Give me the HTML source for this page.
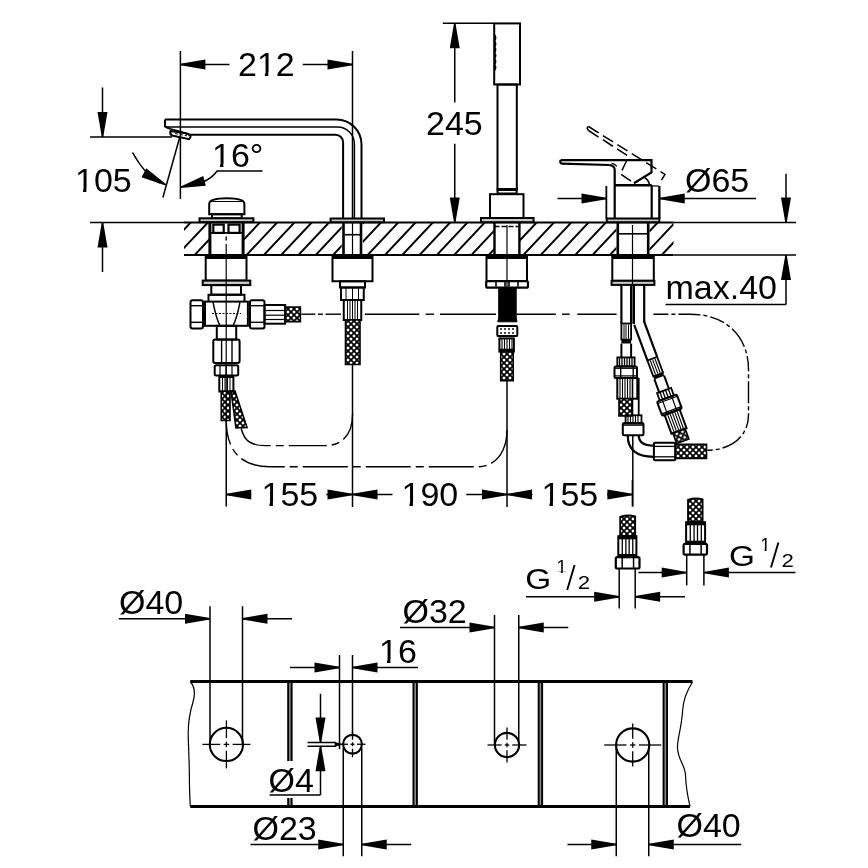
<!DOCTYPE html>
<html><head><meta charset="utf-8"><style>
html,body{margin:0;padding:0;background:#fff;width:868px;height:868px;overflow:hidden}
svg{position:absolute;left:0;top:0}
text{font-family:"Liberation Sans",sans-serif;fill:#000;stroke:none}
</style></head><body>
<svg width="868" height="868" viewBox="0 0 868 868">
<defs>
<pattern id="braid" width="6" height="6" patternUnits="userSpaceOnUse">
<rect width="6" height="6" fill="#000"/>
<path d="M3,1.2 L4.8,3 L3,4.8 L1.2,3Z M0,-1.8 L1.8,0 L0,1.8 L-1.8,0Z M6,-1.8 L7.8,0 L6,1.8 L4.2,0Z M0,4.2 L1.8,6 L0,7.8 L-1.8,6Z M6,4.2 L7.8,6 L6,7.8 L4.2,6Z " fill="#fff" stroke="none"/>
</pattern>
</defs>
<g stroke="#000" fill="none" stroke-linecap="butt">
<line x1="180.4" y1="51" x2="180.4" y2="199" stroke-width="1.5" />
<line x1="352.5" y1="51" x2="352.5" y2="218" stroke-width="1.5" />
<line x1="180.4" y1="64.5" x2="229.5" y2="64.5" stroke-width="1.5" />
<path d="M180.40,63.80 L205.40,59.50 L205.40,69.50 L180.40,65.20Z" fill="#000" stroke="none"/>
<line x1="302.75" y1="64.5" x2="352.5" y2="64.5" stroke-width="1.5" />
<path d="M352.50,65.20 L327.50,69.50 L327.50,59.50 L352.50,63.80Z" fill="#000" stroke="none"/>
<line x1="90" y1="137" x2="172" y2="137" stroke-width="1.5" />
<line x1="102.5" y1="87.5" x2="102.5" y2="137" stroke-width="1.5" />
<path d="M101.80,137.00 L97.50,112.00 L107.50,112.00 L103.20,137.00Z" fill="#000" stroke="none"/>
<line x1="90" y1="222.5" x2="184" y2="222.5" stroke-width="1.5" />
<line x1="102.5" y1="222.5" x2="102.5" y2="272" stroke-width="1.5" />
<path d="M103.20,222.50 L107.50,247.50 L97.50,247.50 L101.80,222.50Z" fill="#000" stroke="none"/>
<line x1="179.7" y1="137.3" x2="162.9" y2="197.5" stroke-width="1.5" />
<path d="M132.5,152.5 Q145,175 160,183" stroke-width="1.5" fill="none" />
<path d="M165.46,185.41 L141.49,177.13 L146.30,168.37 L166.14,184.19Z" fill="#000" stroke="none"/>
<path d="M203,182 Q212,178 217.1,171 L262.5,171" stroke-width="1.5" fill="none" />
<path d="M180.22,186.72 L203.23,176.06 L205.84,185.71 L180.58,188.08Z" fill="#000" stroke="none"/>
<line x1="442.75" y1="23.3" x2="494" y2="23.3" stroke-width="1.5" />
<line x1="454.75" y1="23.3" x2="454.75" y2="102.5" stroke-width="1.5" />
<path d="M455.45,23.30 L459.75,48.30 L449.75,48.30 L454.05,23.30Z" fill="#000" stroke="none"/>
<line x1="454.75" y1="143.75" x2="454.75" y2="222.5" stroke-width="1.5" />
<path d="M454.05,222.50 L449.75,197.50 L459.75,197.50 L455.45,222.50Z" fill="#000" stroke="none"/>
<line x1="557.5" y1="198.5" x2="606.5" y2="198.5" stroke-width="1.5" />
<path d="M606.50,199.20 L581.50,203.50 L581.50,193.50 L606.50,197.80Z" fill="#000" stroke="none"/>
<line x1="606.5" y1="186" x2="606.5" y2="219" stroke-width="1.5" />
<line x1="659.75" y1="186" x2="659.75" y2="219" stroke-width="1.5" />
<line x1="659.75" y1="198.5" x2="756" y2="198.5" stroke-width="1.5" />
<path d="M659.75,197.80 L684.75,193.50 L684.75,203.50 L659.75,199.20Z" fill="#000" stroke="none"/>
<line x1="673.5" y1="222.5" x2="796" y2="222.5" stroke-width="1.5" />
<line x1="673.5" y1="255" x2="796" y2="255" stroke-width="1.5" />
<line x1="786" y1="173.75" x2="786" y2="222.5" stroke-width="1.5" />
<path d="M785.30,222.50 L781.00,197.50 L791.00,197.50 L786.70,222.50Z" fill="#000" stroke="none"/>
<line x1="786" y1="255" x2="786" y2="304.5" stroke-width="1.5" />
<path d="M786.70,255.00 L791.00,280.00 L781.00,280.00 L785.30,255.00Z" fill="#000" stroke="none"/>
<line x1="665.5" y1="304.5" x2="786" y2="304.5" stroke-width="1.5" />
<clipPath id="ct"><path clip-rule="evenodd" d="M184,222.5 H673.5 V255 H184 Z M209.9,222.5 V255 H243.1 V222.5Z M341.7,222.5 V255 H362.9 V222.5Z M494.5,222.5 V255 H519.4 V222.5Z M616.5,222.5 V255 H649.5 V222.5Z"/></clipPath>
<path d="M315.80,255 L346.30,222.5 M333.10,255 L363.60,222.5 M350.40,255 L380.90,222.5 M367.70,255 L398.20,222.5 M385.00,255 L415.50,222.5 M402.30,255 L432.80,222.5 M419.60,255 L450.10,222.5 M436.90,255 L467.40,222.5 M454.20,255 L484.70,222.5 M471.50,255 L502.00,222.5 M488.80,255 L519.30,222.5 M506.10,255 L536.60,222.5 M523.40,255 L553.90,222.5 M540.70,255 L571.20,222.5 M558.00,255 L588.50,222.5 M575.30,255 L605.80,222.5 M592.60,255 L623.10,222.5 M609.90,255 L640.40,222.5 M627.20,255 L657.70,222.5 M644.50,255 L675.00,222.5 M661.80,255 L692.30,222.5 M679.10,255 L709.60,222.5 M696.40,255 L726.90,222.5 M367.70,255 L398.20,222.5 M350.40,255 L380.90,222.5 M333.10,255 L363.60,222.5 M315.80,255 L346.30,222.5 M298.50,255 L329.00,222.5 M281.20,255 L311.70,222.5 M263.90,255 L294.40,222.5 M246.60,255 L277.10,222.5 M229.30,255 L259.80,222.5 M212.00,255 L242.50,222.5 M194.70,255 L225.20,222.5 M177.40,255 L207.90,222.5 M160.10,255 L190.60,222.5 M142.80,255 L173.30,222.5" stroke-width="1.9" fill="none" clip-path="url(#ct)"/>
<line x1="184" y1="222.5" x2="673.5" y2="222.5" stroke-width="2.2" />
<line x1="184" y1="255" x2="673.5" y2="255" stroke-width="2.2" />
<path d="M165,119.5 H336.5 A25,25 0 0 1 361.5,144.5 V218" stroke-width="2.0" fill="none" />
<path d="M165,126.9 H337.5 A17,17 0 0 1 354.4,144 V218" stroke-width="1.5" fill="none" />
<path d="M189.2,134.8 H335.5 A7.6,7.6 0 0 1 343.1,142.4 V218" stroke-width="2.0" fill="none" />
<path d="M165,119.5 V126.5 L169,128.5" stroke-width="2.0" fill="none" />
<path d="M169,128.5 Q180,131 189.2,134.8" stroke-width="1.5" fill="none" />
<path d="M170.5,131 L186,133.2 Q191,134.5 190.5,137 L189.2,139.2 L172,135.5 Q169.5,134.5 170.5,131Z" stroke-width="2.0" fill="none" />
<path d="M175,133.5 L187,135.8" stroke-width="1.0" fill="none" stroke-dasharray="3,2"/>
<rect x="330.6" y="218.5" width="53.39999999999998" height="3.6999999999999886" rx="0" stroke-width="2.0" fill="#c8c8c8" />
<line x1="343.5" y1="222.5" x2="343.5" y2="255" stroke-width="2.6" />
<line x1="361" y1="222.5" x2="361" y2="255" stroke-width="2.6" />
<line x1="343.5" y1="234.7" x2="361" y2="234.7" stroke-width="1.6" />
<line x1="352.5" y1="222.5" x2="352.5" y2="255" stroke-width="1.2" />
<path d="M209.2,214.2 V204 Q209.2,198.3 226.8,198.3 Q244.4,198.3 244.4,204 V214.2 Z" stroke-width="2.0" fill="none" />
<line x1="211" y1="201.5" x2="242" y2="201.5" stroke-width="1.0" />
<rect x="212" y="214.2" width="29.69999999999999" height="4.100000000000023" rx="0" stroke-width="2.0" fill="none" />
<rect x="199.5" y="218.3" width="53.900000000000006" height="3.799999999999983" rx="0" stroke-width="2.0" fill="#c8c8c8" />
<line x1="209.9" y1="222.5" x2="209.9" y2="255" stroke-width="3" />
<line x1="243.1" y1="222.5" x2="243.1" y2="255" stroke-width="3" />
<rect x="213.3" y="224.6" width="10.399999999999977" height="8.300000000000011" rx="0" stroke-width="2.2" fill="none" />
<rect x="228.5" y="224.6" width="11.099999999999994" height="8.300000000000011" rx="0" stroke-width="2.2" fill="none" />
<line x1="209.9" y1="232.9" x2="243.1" y2="232.9" stroke-width="1.6" />
<rect x="205.7" y="255" width="40.80000000000001" height="25.600000000000023" rx="0" stroke-width="2.0" fill="none" />
<line x1="205.7" y1="257.5" x2="246.5" y2="257.5" stroke-width="3" />
<rect x="202.7" y="280.6" width="47.60000000000002" height="4.5" rx="0" stroke-width="2.0" fill="#c8c8c8" />
<rect x="211.3" y="285.1" width="29.69999999999999" height="9.599999999999966" rx="0" stroke-width="2.0" fill="none" />
<path d="M208.5,301.6 L208.5,294.7 L244.5,294.7 L244.5,301.6" stroke-width="2.0" fill="none" />
<rect x="205" y="301.6" width="42.900000000000006" height="24.19999999999999" rx="0" stroke-width="2.0" fill="none" />
<path d="M213,302 Q216,318 220,325.8 M240,302 Q237,318 233,325.8" stroke-width="1.4" fill="none" />
<line x1="212" y1="313.5" x2="241" y2="313.5" stroke-width="1.0" stroke-dasharray="2,1.5"/>
<rect x="190.5" y="300.2" width="12.5" height="28.400000000000034" rx="2" stroke-width="2.0" fill="none" />
<line x1="190.5" y1="305.7" x2="203" y2="305.7" stroke-width="1.4" />
<line x1="190.5" y1="322.3" x2="203" y2="322.3" stroke-width="1.4" />
<rect x="250" y="300.2" width="14.5" height="28.400000000000034" rx="2" stroke-width="2.0" fill="none" />
<line x1="250" y1="305.7" x2="264.5" y2="305.7" stroke-width="1.4" />
<line x1="250" y1="322.3" x2="264.5" y2="322.3" stroke-width="1.4" />
<rect x="264.5" y="305" width="20.69999999999999" height="18.69999999999999" rx="0" stroke-width="2.0" fill="none" />
<line x1="264.5" y1="310.5" x2="285.2" y2="310.5" stroke-width="1.2" />
<line x1="264.5" y1="315.2" x2="285.2" y2="315.2" stroke-width="1.2" />
<line x1="264.5" y1="319.5" x2="285.2" y2="319.5" stroke-width="1.2" />
<rect x="216.8" y="325.8" width="19.399999999999977" height="13.800000000000011" rx="0" stroke-width="2.0" fill="none" />
<rect x="213.3" y="339.6" width="26.299999999999983" height="23.5" rx="2" stroke-width="2.0" fill="none" />
<line x1="221.6" y1="339.6" x2="221.6" y2="363.1" stroke-width="1.4" />
<line x1="232" y1="339.6" x2="232" y2="363.1" stroke-width="1.4" />
<rect x="214.7" y="365.2" width="23.5" height="10.400000000000034" rx="1.5" stroke-width="2.0" fill="none" />
<line x1="220" y1="365.2" x2="220" y2="375.6" stroke-width="1.2" />
<line x1="226" y1="365.2" x2="226" y2="375.6" stroke-width="1.2" />
<line x1="232" y1="365.2" x2="232" y2="375.6" stroke-width="1.2" />
<rect x="219.3" y="377" width="14.099999999999994" height="14.5" rx="0" stroke-width="2.0" fill="none" />
<line x1="222.5" y1="377.5" x2="222.5" y2="391" stroke-width="1.0" />
<line x1="225" y1="377.5" x2="225" y2="391" stroke-width="1.0" />
<line x1="227.5" y1="377.5" x2="227.5" y2="391" stroke-width="1.0" />
<line x1="230" y1="377.5" x2="230" y2="391" stroke-width="1.0" />
<path d="M221.25,391.25 H230 V420.5 H221.25 Z" stroke-width="1.6" fill="url(#braid)" />
<path d="M231,391 L235,391 L247,427.5 L236,428 Z" stroke-width="1.6" fill="url(#braid)" />
<path d="M285.2,307 H300.4 V321.6 H285.2 Z" stroke-width="1.6" fill="url(#braid)" />
<line x1="226.2" y1="236.5" x2="226.2" y2="240.5" stroke-width="1.4" />
<line x1="226.2" y1="244" x2="226.2" y2="420" stroke-width="1.2" />
<rect x="332.5" y="255" width="40.0" height="26.25" rx="0" stroke-width="2.0" fill="none" />
<line x1="332.5" y1="257.5" x2="372.5" y2="257.5" stroke-width="3" />
<rect x="340" y="281.25" width="25" height="6.25" rx="0" stroke-width="2.0" fill="none" />
<rect x="341" y="287.5" width="22.75" height="12.5" rx="0" stroke-width="2.0" fill="none" />
<line x1="346" y1="287.5" x2="346" y2="300" stroke-width="1.0" />
<line x1="352.5" y1="287.5" x2="352.5" y2="300" stroke-width="1.0" />
<line x1="358.5" y1="287.5" x2="358.5" y2="300" stroke-width="1.0" />
<rect x="343.75" y="300" width="17.5" height="20" rx="0" stroke-width="2.0" fill="none" />
<line x1="347.5" y1="300" x2="347.5" y2="320" stroke-width="1.0" />
<line x1="350" y1="300" x2="350" y2="320" stroke-width="1.0" />
<line x1="352.5" y1="300" x2="352.5" y2="320" stroke-width="1.0" />
<line x1="355" y1="300" x2="355" y2="320" stroke-width="1.0" />
<line x1="357.5" y1="300" x2="357.5" y2="320" stroke-width="1.0" />
<path d="M345.5,320 H360 V364.5 H345.5 Z" stroke-width="1.6" fill="url(#braid)" />
<line x1="352.5" y1="364.5" x2="352.5" y2="507" stroke-width="1.5" />
<rect x="494.2" y="23.4" width="25.80000000000001" height="61.1" rx="0" stroke-width="2.0" fill="none" />
<rect x="497.5" y="84.5" width="19.299999999999955" height="105.5" rx="0" stroke-width="2.0" fill="none" />
<path d="M494.6,35.0 q2,2.9 0,5.8 M494.6,40.9 q2,2.9 0,5.8 M494.6,46.8 q2,2.9 0,5.8 M494.6,52.7 q2,2.9 0,5.8 M494.6,58.6 q2,2.9 0,5.8 M494.6,64.5 q2,2.9 0,5.8" stroke-width="1.6" fill="none" />
<rect x="497.6" y="189" width="19.0" height="4.5" rx="0" stroke-width="2.0" fill="none" />
<rect x="490" y="194.2" width="33.5" height="23.80000000000001" rx="0" stroke-width="2.0" fill="none" />
<rect x="481" y="218" width="52.60000000000002" height="4.199999999999989" rx="0" stroke-width="2.0" fill="#c8c8c8" />
<line x1="494.5" y1="222.5" x2="494.5" y2="255" stroke-width="2.4" />
<line x1="519.4" y1="222.5" x2="519.4" y2="255" stroke-width="2.4" />
<line x1="494.5" y1="226.5" x2="519.4" y2="226.5" stroke-width="1.5" stroke-dasharray="5,2"/>
<rect x="486.5" y="255" width="40.5" height="26.25" rx="0" stroke-width="2.0" fill="none" />
<line x1="486.5" y1="257.5" x2="527" y2="257.5" stroke-width="3" />
<rect x="486.2" y="281" width="41.80000000000001" height="6.699999999999989" rx="1.5" stroke-width="2.2" fill="none" />
<line x1="496" y1="282" x2="496" y2="286.7" stroke-width="1.6" />
<line x1="505" y1="282" x2="505" y2="286.7" stroke-width="1.6" />
<line x1="509" y1="282" x2="509" y2="286.7" stroke-width="1.6" />
<line x1="518" y1="282" x2="518" y2="286.7" stroke-width="1.6" />
<path d="M498.7,287.7 H516.2 V318 L517,321.8 H497.7 L498.7,318 Z" stroke-width="1.0" fill="#000" />
<line x1="507" y1="225" x2="507" y2="287.5" stroke-width="1.2" />
<rect x="497.3" y="326" width="19.999999999999943" height="10.100000000000023" rx="1.2" stroke-width="2" fill="none" />
<line x1="501" y1="328" x2="501" y2="334" stroke-width="1.4" stroke-dasharray="2,2"/>
<line x1="505" y1="328" x2="505" y2="334" stroke-width="1.4" stroke-dasharray="2,2"/>
<line x1="509" y1="328" x2="509" y2="334" stroke-width="1.4" stroke-dasharray="2,2"/>
<line x1="513" y1="328" x2="513" y2="334" stroke-width="1.4" stroke-dasharray="2,2"/>
<rect x="499.4" y="338.4" width="14.5" height="13.200000000000045" rx="0" stroke-width="2" fill="none" />
<line x1="502" y1="339" x2="502" y2="349" stroke-width="1.1" />
<line x1="504.5" y1="339" x2="504.5" y2="349" stroke-width="1.1" />
<line x1="507" y1="339" x2="507" y2="349" stroke-width="1.1" />
<line x1="509.5" y1="339" x2="509.5" y2="349" stroke-width="1.1" />
<line x1="512" y1="339" x2="512" y2="349" stroke-width="1.1" />
<line x1="499.4" y1="350" x2="513.9" y2="350" stroke-width="2.5" />
<path d="M500.7,351.6 H513.2 V380.6 H500.7 Z" stroke-width="1.6" fill="url(#braid)" />
<line x1="507" y1="380.6" x2="507" y2="507" stroke-width="1.5" />
<path d="M560.6,160.1 H651.5 V172.4 L633.9,183.3" stroke-width="2.2" fill="none" />
<path d="M560.6,160.1 Q559.5,163.5 562,163.6 L609,165 Q614.7,165.5 614.7,170 V218.5" stroke-width="2.2" fill="none" />
<path d="M611.5,163.3 Q615.5,164 616.7,166.5" stroke-width="1.2" fill="none" />
<path d="M643.2,176.5 Q649,180 649.5,185" stroke-width="1.6" fill="none" />
<line x1="614.4" y1="185.2" x2="651.7" y2="185.2" stroke-width="2.6" />
<line x1="651.7" y1="185.2" x2="651.7" y2="218.5" stroke-width="2.2" />
<line x1="606.3" y1="186" x2="606.3" y2="218.5" stroke-width="1.4" />
<line x1="658.9" y1="186" x2="658.9" y2="218.5" stroke-width="1.4" />
<line x1="651.7" y1="186" x2="658.9" y2="186" stroke-width="1.2" />
<rect x="606.75" y="218.5" width="52.549999999999955" height="3.6999999999999886" rx="0" stroke-width="2.0" fill="#c8c8c8" />
<line x1="617.8" y1="233.8" x2="648.2" y2="233.8" stroke-width="1.6" />
<line x1="617.8" y1="222.5" x2="617.8" y2="255" stroke-width="2.6" />
<line x1="648.2" y1="222.5" x2="648.2" y2="255" stroke-width="2.6" />
<rect x="612.3" y="255" width="41.5" height="25.80000000000001" rx="0" stroke-width="2.0" fill="none" />
<line x1="612.3" y1="257.2" x2="653.8" y2="257.2" stroke-width="3.5" />
<rect x="611.6" y="280.8" width="42.799999999999955" height="4.099999999999966" rx="0" stroke-width="2.0" fill="#c8c8c8" />
<path d="M588.5,126.5 L665,174.4 L658.8,184.3 M588.5,130.5 L628.7,156.5 Q624,166 620.4,173.9 L633,182.5" stroke-width="1.5" fill="none" stroke-dasharray="12,5"/>
<path d="M588.5,126.5 Q586,127.5 588.5,130.5" stroke-width="1.5" fill="none" />
<line x1="632.5" y1="225" x2="632.5" y2="285" stroke-width="1.2" />
<line x1="633.2" y1="285" x2="633.2" y2="324" stroke-width="1.2" />
<line x1="301.4" y1="314.2" x2="315.3" y2="314.2" stroke-width="1.4" />
<line x1="317.9" y1="314.2" x2="323" y2="314.2" stroke-width="1.4" />
<line x1="325.5" y1="314.2" x2="341" y2="314.2" stroke-width="1.4" />
<line x1="364.8" y1="314.2" x2="419.3" y2="314.2" stroke-width="1.4" />
<line x1="425.6" y1="314.2" x2="434" y2="314.2" stroke-width="1.4" />
<line x1="440" y1="314.2" x2="496" y2="314.2" stroke-width="1.4" />
<line x1="516.5" y1="314.2" x2="555.8" y2="314.2" stroke-width="1.4" />
<line x1="562" y1="314.2" x2="569.7" y2="314.2" stroke-width="1.4" />
<line x1="577.3" y1="314.2" x2="616.6" y2="314.2" stroke-width="1.4" />
<path d="M653.4,314.2 H690 C725,314.2 748.5,335 748.5,370 V415 C748.5,437 730,450.2 707.3,450.2" stroke-width="1.4" fill="none" stroke-dasharray="15,3,4,3,22,3,4,3" stroke-dashoffset="0"/>
<path d="M241.25,428.5 C244,440 250,445.6 265,445.6 H325 C342,445.6 352.6,435 352.6,413.8" stroke-width="1.4" fill="none" stroke-dasharray="38,5,8,5"/>
<path d="M226.25,420 C226.25,450 240,466.7 270,466.7 H478 C497,466.7 507,450 507,430" stroke-width="1.4" fill="none" stroke-dasharray="45,5,8,5" stroke-dashoffset="20"/>
<line x1="226.25" y1="420" x2="226.25" y2="506.5" stroke-width="1.5" />
<line x1="632.4" y1="480" x2="632.4" y2="506.5" stroke-width="1.5" />
<line x1="226.25" y1="494.5" x2="251.25" y2="494.5" stroke-width="1.5" />
<path d="M226.25,493.80 L251.25,489.50 L251.25,499.50 L226.25,495.20Z" fill="#000" stroke="none"/>
<line x1="326.25" y1="494.5" x2="377" y2="494.5" stroke-width="1.5" />
<path d="M352.50,495.20 L327.50,499.50 L327.50,489.50 L352.50,493.80Z" fill="#000" stroke="none"/>
<path d="M352.50,493.80 L377.50,489.50 L377.50,499.50 L352.50,495.20Z" fill="#000" stroke="none"/>
<line x1="392.5" y1="494.5" x2="377" y2="494.5" stroke-width="1.5" />
<line x1="466.25" y1="494.5" x2="532.5" y2="494.5" stroke-width="1.5" />
<path d="M507.00,495.20 L482.00,499.50 L482.00,489.50 L507.00,493.80Z" fill="#000" stroke="none"/>
<path d="M507.00,493.80 L532.00,489.50 L532.00,499.50 L507.00,495.20Z" fill="#000" stroke="none"/>
<line x1="607" y1="494.5" x2="632.4" y2="494.5" stroke-width="1.5" />
<path d="M632.40,495.20 L607.40,499.50 L607.40,489.50 L632.40,493.80Z" fill="#000" stroke="none"/>
<path d="M620.2,516.9 Q627.7,514.4 635.2,516.4 V536.2 H620.2 Z" stroke-width="1.8" fill="url(#braid)" />
<rect x="618.3" y="536.2" width="18.100000000000023" height="20.899999999999977" rx="0" stroke-width="2" fill="none" />
<line x1="618.3" y1="537.8000000000001" x2="636.4" y2="537.8000000000001" stroke-width="3" />
<line x1="618.3" y1="555.5" x2="636.4" y2="555.5" stroke-width="3" />
<line x1="622.2819999999999" y1="538.2" x2="622.2819999999999" y2="555.1" stroke-width="1.3" />
<line x1="625.9019999999999" y1="538.2" x2="625.9019999999999" y2="555.1" stroke-width="1.3" />
<line x1="629.16" y1="538.2" x2="629.16" y2="555.1" stroke-width="1.3" />
<line x1="632.78" y1="538.2" x2="632.78" y2="555.1" stroke-width="1.3" />
<rect x="615.8" y="557.1" width="23.700000000000045" height="11.399999999999977" rx="1.5" stroke-width="2.2" fill="none" />
<line x1="622.199" y1="557.1" x2="622.199" y2="568.5" stroke-width="1.5" />
<line x1="633.575" y1="557.1" x2="633.575" y2="568.5" stroke-width="1.5" />
<line x1="619.2" y1="568.5" x2="619.2" y2="608.6" stroke-width="1.5" />
<line x1="635.2" y1="568.5" x2="635.2" y2="608.6" stroke-width="1.5" />
<path d="M688,499.8 Q695.3,497.3 702.6,499.3 V522.2 H688 Z" stroke-width="1.8" fill="url(#braid)" />
<rect x="686.1" y="522.2" width="19.0" height="21.59999999999991" rx="0" stroke-width="2" fill="none" />
<line x1="686.1" y1="523.8000000000001" x2="705.1" y2="523.8000000000001" stroke-width="3" />
<line x1="686.1" y1="542.1999999999999" x2="705.1" y2="542.1999999999999" stroke-width="3" />
<line x1="690.28" y1="524.2" x2="690.28" y2="541.8" stroke-width="1.3" />
<line x1="694.08" y1="524.2" x2="694.08" y2="541.8" stroke-width="1.3" />
<line x1="697.5" y1="524.2" x2="697.5" y2="541.8" stroke-width="1.3" />
<line x1="701.3000000000001" y1="524.2" x2="701.3000000000001" y2="541.8" stroke-width="1.3" />
<rect x="683.6" y="543.8" width="23.399999999999977" height="10.800000000000068" rx="1.5" stroke-width="2.2" fill="none" />
<line x1="689.918" y1="543.8" x2="689.918" y2="554.6" stroke-width="1.5" />
<line x1="701.15" y1="543.8" x2="701.15" y2="554.6" stroke-width="1.5" />
<line x1="686.7" y1="554.6" x2="686.7" y2="585.4" stroke-width="1.5" />
<line x1="703.9" y1="554.6" x2="703.9" y2="585.4" stroke-width="1.5" />
<line x1="526" y1="596.8" x2="619.2" y2="596.8" stroke-width="1.5" />
<path d="M619.20,597.50 L594.20,601.80 L594.20,591.80 L619.20,596.10Z" fill="#000" stroke="none"/>
<line x1="635.2" y1="596.8" x2="685" y2="596.8" stroke-width="1.5" />
<path d="M635.20,596.10 L660.20,591.80 L660.20,601.80 L635.20,597.50Z" fill="#000" stroke="none"/>
<line x1="638.3" y1="572.6" x2="686.7" y2="572.6" stroke-width="1.5" />
<path d="M686.70,573.30 L661.70,577.60 L661.70,567.60 L686.70,571.90Z" fill="#000" stroke="none"/>
<line x1="703.9" y1="572.6" x2="795.5" y2="572.6" stroke-width="1.5" />
<path d="M703.90,571.90 L728.90,567.60 L728.90,577.60 L703.90,573.30Z" fill="#000" stroke="none"/>
<path d="M567.2,590 L574.6,565" stroke-width="1.9" fill="none" />
<path d="M771.0,567.6 L778.4000000000001,542.6" stroke-width="1.9" fill="none" />
<path d="M190.3,681.5 H692.5" stroke-width="3.0" fill="none" />
<path d="M190.3,806.5 H690" stroke-width="3.0" fill="none" />
<path d="M190.3,681.75 C196,688 195,695 193,702 C189,715 188,722 188.2,735 C188.6,750 189.4,765 189.4,778 C189.4,790 190,800 190.3,806.5" stroke-width="1.2" fill="none" />
<path d="M692.5,682 C686,692 683,700 682.5,712 C681.5,728 677,740 677.5,748 C678,760 685,765 685.5,775 C686,788 688,798 690,806.25" stroke-width="1.2" fill="none" />
<line x1="289.9" y1="683" x2="289.9" y2="761" stroke-width="5.4" />
<line x1="289.9" y1="683" x2="289.9" y2="761" stroke-width="1.6" stroke="#8a8a8a"/>
<line x1="289.9" y1="798" x2="289.9" y2="805" stroke-width="5.4" />
<line x1="289.9" y1="798" x2="289.9" y2="805" stroke-width="1.6" stroke="#8a8a8a"/>
<line x1="415.2" y1="683" x2="415.2" y2="805" stroke-width="5.4" />
<line x1="415.2" y1="683" x2="415.2" y2="805" stroke-width="1.6" stroke="#8a8a8a"/>
<line x1="540.4" y1="683" x2="540.4" y2="805" stroke-width="5.4" />
<line x1="540.4" y1="683" x2="540.4" y2="805" stroke-width="1.6" stroke="#8a8a8a"/>
<line x1="665.3" y1="683" x2="665.3" y2="805" stroke-width="5.4" />
<line x1="665.3" y1="683" x2="665.3" y2="805" stroke-width="1.6" stroke="#8a8a8a"/>
<circle cx="226.4" cy="744.4" r="16.6" stroke-width="2.1" fill="none"/>
<line x1="202.4" y1="744.4" x2="220.15" y2="744.4" stroke-width="1.3" />
<line x1="223.65" y1="744.4" x2="229.15" y2="744.4" stroke-width="1.3" />
<line x1="232.65" y1="744.4" x2="250.4" y2="744.4" stroke-width="1.3" />
<line x1="226.4" y1="720.4" x2="226.4" y2="738.15" stroke-width="1.3" />
<line x1="226.4" y1="741.65" x2="226.4" y2="747.15" stroke-width="1.3" />
<line x1="226.4" y1="750.65" x2="226.4" y2="768.4" stroke-width="1.3" />
<circle cx="352.5" cy="744.25" r="9.4" stroke-width="2.1" fill="none"/>
<line x1="339.5" y1="744.25" x2="348.0" y2="744.25" stroke-width="1.3" />
<line x1="350.5" y1="744.25" x2="354.5" y2="744.25" stroke-width="1.3" />
<line x1="357.0" y1="744.25" x2="365.5" y2="744.25" stroke-width="1.3" />
<line x1="352.5" y1="731.25" x2="352.5" y2="739.75" stroke-width="1.3" />
<line x1="352.5" y1="742.25" x2="352.5" y2="746.25" stroke-width="1.3" />
<line x1="352.5" y1="748.75" x2="352.5" y2="757.25" stroke-width="1.3" />
<circle cx="507" cy="745" r="12.1" stroke-width="2.1" fill="none"/>
<line x1="487.5" y1="745" x2="501.7" y2="745" stroke-width="1.3" />
<line x1="504.7" y1="745" x2="509.3" y2="745" stroke-width="1.3" />
<line x1="512.3" y1="745" x2="526.5" y2="745" stroke-width="1.3" />
<line x1="507" y1="727.5" x2="507" y2="739.7" stroke-width="1.3" />
<line x1="507" y1="742.7" x2="507" y2="747.3" stroke-width="1.3" />
<line x1="507" y1="750.3" x2="507" y2="762.5" stroke-width="1.3" />
<circle cx="632.7" cy="745" r="16.6" stroke-width="2.1" fill="none"/>
<line x1="604.2" y1="745" x2="626.45" y2="745" stroke-width="1.3" />
<line x1="629.95" y1="745" x2="635.45" y2="745" stroke-width="1.3" />
<line x1="638.95" y1="745" x2="661.2" y2="745" stroke-width="1.3" />
<line x1="632.7" y1="723.5" x2="632.7" y2="738.75" stroke-width="1.3" />
<line x1="632.7" y1="742.25" x2="632.7" y2="747.75" stroke-width="1.3" />
<line x1="632.7" y1="751.25" x2="632.7" y2="766.5" stroke-width="1.3" />
<line x1="210" y1="606.25" x2="210" y2="744.5" stroke-width="1.5" />
<line x1="242.5" y1="606.25" x2="242.5" y2="744.5" stroke-width="1.5" />
<line x1="118.75" y1="618.75" x2="210" y2="618.75" stroke-width="1.5" />
<path d="M210.00,619.45 L185.00,623.75 L185.00,613.75 L210.00,618.05Z" fill="#000" stroke="none"/>
<line x1="242.5" y1="618.75" x2="292" y2="618.75" stroke-width="1.5" />
<path d="M242.50,618.05 L267.50,613.75 L267.50,623.75 L242.50,619.45Z" fill="#000" stroke="none"/>
<line x1="339.5" y1="655" x2="339.5" y2="749.2" stroke-width="1.5" />
<line x1="352.5" y1="655" x2="352.5" y2="735" stroke-width="1.5" />
<line x1="290" y1="667.5" x2="339.5" y2="667.5" stroke-width="1.5" />
<path d="M339.50,668.20 L314.50,672.50 L314.50,662.50 L339.50,666.80Z" fill="#000" stroke="none"/>
<line x1="352.5" y1="667.5" x2="418" y2="667.5" stroke-width="1.5" />
<path d="M352.50,666.80 L377.50,662.50 L377.50,672.50 L352.50,668.20Z" fill="#000" stroke="none"/>
<line x1="320.5" y1="693.75" x2="320.5" y2="742.5" stroke-width="1.5" />
<path d="M319.80,742.50 L315.50,717.50 L325.50,717.50 L321.20,742.50Z" fill="#000" stroke="none"/>
<line x1="320.5" y1="746.25" x2="320.5" y2="795" stroke-width="1.5" />
<path d="M321.20,746.25 L325.50,771.25 L315.50,771.25 L319.80,746.25Z" fill="#000" stroke="none"/>
<line x1="269.5" y1="795" x2="320.5" y2="795" stroke-width="1.5" />
<line x1="307.5" y1="742.5" x2="336" y2="742.5" stroke-width="1.5" />
<line x1="307.5" y1="746.25" x2="336" y2="746.25" stroke-width="1.5" />
<path d="M342.70,744.80 L334.70,746.80 L334.70,742.00 L342.70,744.00Z" fill="#000" stroke="none"/>
<line x1="343.25" y1="748" x2="343.25" y2="856.25" stroke-width="1.5" />
<line x1="361.75" y1="748" x2="361.75" y2="856.25" stroke-width="1.5" />
<line x1="250.5" y1="844.5" x2="343.25" y2="844.5" stroke-width="1.5" />
<path d="M343.25,845.20 L318.25,849.50 L318.25,839.50 L343.25,843.80Z" fill="#000" stroke="none"/>
<line x1="361.75" y1="844.5" x2="411.25" y2="844.5" stroke-width="1.5" />
<path d="M361.75,843.80 L386.75,839.50 L386.75,849.50 L361.75,845.20Z" fill="#000" stroke="none"/>
<line x1="494.5" y1="615" x2="494.5" y2="745" stroke-width="1.5" />
<line x1="518.75" y1="615" x2="518.75" y2="745" stroke-width="1.5" />
<line x1="400" y1="627.5" x2="494.5" y2="627.5" stroke-width="1.5" />
<path d="M494.50,628.20 L469.50,632.50 L469.50,622.50 L494.50,626.80Z" fill="#000" stroke="none"/>
<line x1="518.75" y1="627.5" x2="568.25" y2="627.5" stroke-width="1.5" />
<path d="M518.75,626.80 L543.75,622.50 L543.75,632.50 L518.75,628.20Z" fill="#000" stroke="none"/>
<line x1="616.25" y1="745" x2="616.25" y2="856.25" stroke-width="1.5" />
<line x1="648.75" y1="745" x2="648.75" y2="856.25" stroke-width="1.5" />
<line x1="567.5" y1="844.5" x2="616.25" y2="844.5" stroke-width="1.5" />
<path d="M616.25,845.20 L591.25,849.50 L591.25,839.50 L616.25,843.80Z" fill="#000" stroke="none"/>
<line x1="648.75" y1="844.5" x2="741.25" y2="844.5" stroke-width="1.5" />
<path d="M648.75,843.80 L673.75,839.50 L673.75,849.50 L648.75,845.20Z" fill="#000" stroke="none"/>
<line x1="621.4" y1="285" x2="621.4" y2="323.5" stroke-width="2.2" />
<line x1="631.1" y1="285" x2="631.1" y2="323.5" stroke-width="2.2" />
<path d="M633.9,285 V324 M644.2,285 V322" stroke-width="2.2" fill="none" />
<rect x="621.4" y="323.5" width="9.700000000000045" height="16.0" rx="0" stroke-width="1.8" fill="none" />
<line x1="624" y1="324.5" x2="624" y2="338.5" stroke-width="1.0" />
<line x1="626" y1="324.5" x2="626" y2="338.5" stroke-width="1.0" />
<line x1="628.5" y1="324.5" x2="628.5" y2="338.5" stroke-width="1.0" />
<line x1="621.4" y1="341.5" x2="631.1" y2="341.5" stroke-width="4" />
<line x1="621.4" y1="343.6" x2="621.4" y2="357.4" stroke-width="2" />
<line x1="631.1" y1="343.6" x2="631.1" y2="357.4" stroke-width="2" />
<rect x="617.3" y="357.4" width="17.300000000000068" height="9.0" rx="0" stroke-width="1.8" fill="none" />
<line x1="619.5" y1="358" x2="619.5" y2="366" stroke-width="1.3" />
<line x1="622" y1="358" x2="622" y2="366" stroke-width="1.3" />
<line x1="624.5" y1="358" x2="624.5" y2="366" stroke-width="1.3" />
<line x1="627" y1="358" x2="627" y2="366" stroke-width="1.3" />
<line x1="629.5" y1="358" x2="629.5" y2="366" stroke-width="1.3" />
<line x1="632" y1="358" x2="632" y2="366" stroke-width="1.3" />
<rect x="614.5" y="366.4" width="22.5" height="11.600000000000023" rx="1.5" stroke-width="2" fill="none" />
<line x1="614.5" y1="368.3" x2="637" y2="368.3" stroke-width="1.2" />
<line x1="614.5" y1="375.9" x2="637" y2="375.9" stroke-width="1.2" />
<line x1="620.7" y1="366.4" x2="620.7" y2="378" stroke-width="1.4" />
<line x1="633.2" y1="366.4" x2="633.2" y2="378" stroke-width="1.4" />
<rect x="617.3" y="378" width="20.0" height="20.69999999999999" rx="0" stroke-width="2" fill="none" />
<line x1="620" y1="379" x2="620" y2="398" stroke-width="1.1" />
<line x1="622.5" y1="379" x2="622.5" y2="398" stroke-width="1.1" />
<line x1="625" y1="379" x2="625" y2="398" stroke-width="1.1" />
<line x1="627.5" y1="379" x2="627.5" y2="398" stroke-width="1.1" />
<line x1="630" y1="379" x2="630" y2="398" stroke-width="1.1" />
<path d="M619,398.7 H632 V416 H619 Z" stroke-width="1.6" fill="url(#braid)" />
<line x1="632.5" y1="378" x2="632.5" y2="415.3" stroke-width="1.6" />
<line x1="638.7" y1="378" x2="638.7" y2="415.3" stroke-width="1.8" />
<rect x="625.6" y="415.3" width="15.899999999999977" height="7.599999999999966" rx="0" stroke-width="1.8" fill="none" />
<line x1="628" y1="416" x2="628" y2="422.5" stroke-width="1.1" />
<line x1="630.5" y1="416" x2="630.5" y2="422.5" stroke-width="1.1" />
<line x1="633" y1="416" x2="633" y2="422.5" stroke-width="1.1" />
<line x1="635.5" y1="416" x2="635.5" y2="422.5" stroke-width="1.1" />
<line x1="638" y1="416" x2="638" y2="422.5" stroke-width="1.1" />
<rect x="622.8" y="422.9" width="20.700000000000045" height="12.400000000000034" rx="1.5" stroke-width="2" fill="none" />
<line x1="622.8" y1="425" x2="643.5" y2="425" stroke-width="1.6" />
<path d="M627.7,435.3 Q627.7,456.8 653.9,456.8 M638.7,435.3 Q638.7,445.7 653.9,445.7" stroke-width="2.2" fill="none" />
<rect x="653.9" y="442.7" width="21.399999999999977" height="17.5" rx="1" stroke-width="2" fill="none" />
<line x1="653.9" y1="446.4" x2="675.3" y2="446.4" stroke-width="1.3" />
<line x1="653.9" y1="456.8" x2="675.3" y2="456.8" stroke-width="1.3" />
<path d="M675.3,444.3 H706.5 V458.4 H675.3 Z" stroke-width="1.6" fill="url(#braid)" />
<line x1="632.8" y1="435.3" x2="632.8" y2="506.5" stroke-width="1.5" />
<g transform="translate(639.1,323) rotate(-20.3)">
<path d="M-5.2,0 V38 M5.2,0 V38" stroke-width="2.2"/>
<rect x="-5.2" y="38" width="10.4" height="17" stroke-width="1.8" fill="none"/>
<path d="M-2.5,39 V54 M0,39 V54 M2.5,39 V54" stroke-width="1.1"/>
<path d="M-5.2,56.5 H5.2" stroke-width="3.5"/>
<path d="M-5.2,58 V72 M5.2,58 V72" stroke-width="2"/>
<rect x="-7.5" y="72" width="15" height="8" stroke-width="1.8" fill="none"/>
<path d="M-4.5,72 V80 M-1.5,72 V80 M1.5,72 V80 M4.5,72 V80" stroke-width="1.3"/>
<rect x="-10.5" y="80" width="21" height="15" rx="1.5" stroke-width="2" fill="none"/>
<path d="M-10.5,82 H10.5 M-10.5,93 H10.5 M-5,80 V95 M5,80 V95" stroke-width="1.2"/>
<rect x="-8" y="95" width="16" height="20" stroke-width="2" fill="none"/>
<path d="M-5,96 V114 M-2.5,96 V114 M0,96 V114 M2.5,96 V114 M5,96 V114" stroke-width="1.1"/>
<path d="M-6.5,115 H6.5 V126 H-6.5Z" stroke-width="1.6" fill="url(#braid)"/>
</g>
</g>
<mask id="tm" maskUnits="userSpaceOnUse" x="0" y="0" width="868" height="868"><rect x="0" y="0" width="868" height="868" fill="#fff"/><rect x="258.26" y="72.60" width="6.63" height="3.91" fill="#000"/><rect x="268.29" y="72.60" width="6.63" height="3.91" fill="#000"/><rect x="76.36" y="188.60" width="6.63" height="3.91" fill="#000"/><rect x="86.39" y="188.60" width="6.63" height="3.91" fill="#000"/><rect x="213.36" y="163.60" width="6.63" height="3.91" fill="#000"/><rect x="223.39" y="163.60" width="6.63" height="3.91" fill="#000"/><rect x="262.86" y="502.10" width="6.63" height="3.91" fill="#000"/><rect x="272.89" y="502.10" width="6.63" height="3.91" fill="#000"/><rect x="402.86" y="502.60" width="6.63" height="3.91" fill="#000"/><rect x="412.89" y="502.60" width="6.63" height="3.91" fill="#000"/><rect x="542.86" y="502.10" width="6.63" height="3.91" fill="#000"/><rect x="552.89" y="502.10" width="6.63" height="3.91" fill="#000"/><rect x="557.24" y="571.55" width="3.61" height="2.13" fill="#000"/><rect x="562.70" y="571.55" width="3.61" height="2.13" fill="#000"/><rect x="761.04" y="549.15" width="3.61" height="2.13" fill="#000"/><rect x="766.50" y="549.15" width="3.61" height="2.13" fill="#000"/><rect x="380.36" y="659.60" width="6.63" height="3.91" fill="#000"/><rect x="390.39" y="659.60" width="6.63" height="3.91" fill="#000"/></mask>
<g mask="url(#tm)">
<text x="238" y="76" font-size="34" text-anchor="start" >212</text>
<text x="75" y="192" font-size="34" text-anchor="start" >105</text>
<text x="212" y="167" font-size="34" text-anchor="start" >16°</text>
<text x="426" y="135" font-size="34" text-anchor="start" >245</text>
<text x="685" y="191.5" font-size="34" text-anchor="start" >Ø65</text>
<text x="665.5" y="298.5" font-size="34" text-anchor="start" >max.40</text>
<text x="261.5" y="505.5" font-size="34" text-anchor="start" >155</text>
<text x="401.5" y="506" font-size="34" text-anchor="start" >190</text>
<text x="541.5" y="505.5" font-size="34" text-anchor="start" >155</text>
<text transform="translate(525.20,588.50) scale(1.13,1)" x="0" y="0" font-size="29.5">G</text>
<text transform="translate(556.50,573.40) scale(1.0,1)" x="0" y="0" font-size="18.5">1</text>
<text transform="translate(577.70,589.40) scale(1.2,1)" x="0" y="0" font-size="18.5">2</text>
<text transform="translate(729.00,566.10) scale(1.13,1)" x="0" y="0" font-size="29.5">G</text>
<text transform="translate(760.30,551.00) scale(1.0,1)" x="0" y="0" font-size="18.5">1</text>
<text transform="translate(781.50,567.00) scale(1.2,1)" x="0" y="0" font-size="18.5">2</text>
<text x="119" y="613.75" font-size="34" text-anchor="start" >Ø40</text>
<text x="379" y="663" font-size="34" text-anchor="start" >16</text>
<text x="268.5" y="792" font-size="34" text-anchor="start" >Ø4</text>
<text x="252.5" y="839.5" font-size="34" text-anchor="start" >Ø23</text>
<text x="402.5" y="622.5" font-size="34" text-anchor="start" >Ø32</text>
<text x="676.5" y="837" font-size="34" text-anchor="start" >Ø40</text>
</g>
</svg>
</body></html>
